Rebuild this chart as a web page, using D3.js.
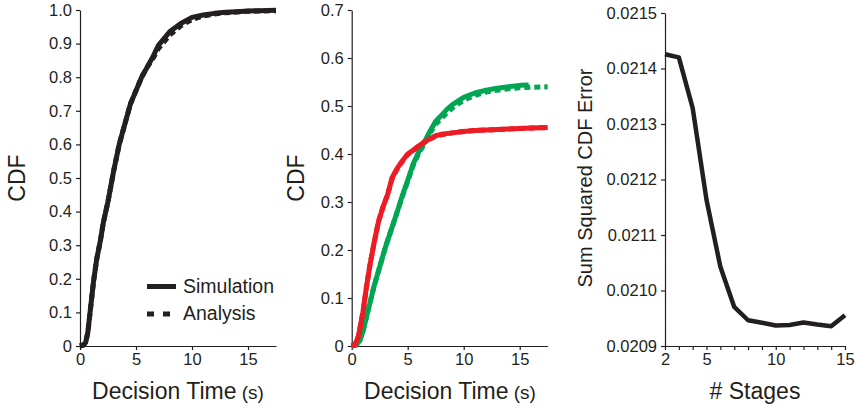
<!DOCTYPE html>
<html><head><meta charset="utf-8">
<script src="https://cdn.jsdelivr.net/npm/d3@7"></script>
<style>
html,body{margin:0;padding:0;background:#fff;}
svg text{font-family:"Liberation Sans",Arial,Helvetica,sans-serif;fill:#231F20;}
</style></head>
<body><svg id="c" width="856" height="406"></svg>
<script>
// ---- Panel A: overall decision-time CDF ----
const simTime = [0,0.3,0.5,0.7,0.9,1.2,1.5,1.8,2.1,2.5,3.0,3.5,4.0,4.5,5.0,5.5,6.0,6.5,7.0,7.5,8.0,9.0,10,11,12,13,14,15,16,17.5];
const simCDF  = [0,0.003,0.01,0.04,0.1,0.19,0.26,0.31,0.37,0.43,0.52,0.6,0.66,0.72,0.76,0.80,0.83,0.86,0.895,0.915,0.935,0.96,0.978,0.985,0.99,0.993,0.995,0.997,0.998,0.999];
const anaTime = [0,0.3,0.5,0.7,0.9,1.2,1.5,1.8,2.1,2.5,3.0,3.5,4.0,4.5,5.0,5.5,6.0,6.5,7.0,7.5,8.0,9.0,10,11,12,13,14,15,16,17.5];
const anaCDF  = [0,0.003,0.01,0.04,0.1,0.19,0.26,0.31,0.37,0.43,0.52,0.6,0.66,0.72,0.76,0.80,0.83,0.855,0.885,0.905,0.925,0.953,0.972,0.982,0.988,0.992,0.994,0.996,0.997,0.998];
// ---- Panel B: CDF by choice ----
const redTime = [0,0.3,0.6,0.8,1.0,1.3,1.6,2.0,2.4,2.8,3.2,3.6,4.0,4.5,5.0,5.5,6.0,6.5,7.0,7.5,8,9,10,11,12,13,14,15,16,17.5];
const redSim  = [0,0.003,0.02,0.045,0.07,0.12,0.165,0.215,0.26,0.29,0.315,0.35,0.368,0.385,0.4,0.408,0.417,0.425,0.432,0.438,0.441,0.444,0.447,0.449,0.45,0.451,0.452,0.453,0.454,0.455];
const redAna  = [0,0.003,0.02,0.045,0.07,0.12,0.165,0.215,0.26,0.29,0.315,0.348,0.366,0.384,0.399,0.408,0.417,0.425,0.431,0.437,0.44,0.444,0.447,0.449,0.45,0.451,0.452,0.453,0.454,0.455];
const greenTime = [0,0.4,0.7,1.0,1.5,2.0,2.5,3.0,3.5,4.0,4.5,5.0,5.5,6.0,6.5,7.0,7.5,8.0,8.5,9,10,11,12,13,14,15,15.8];
const greenSim  = [0,0.002,0.01,0.03,0.078,0.125,0.165,0.205,0.24,0.275,0.312,0.345,0.38,0.405,0.425,0.448,0.468,0.48,0.493,0.503,0.518,0.527,0.533,0.537,0.54,0.543,0.544];
const greenAnaTime = [0,0.4,0.7,1.0,1.5,2.0,2.5,3.0,3.5,4.0,4.5,5.0,5.5,6.0,6.5,7.0,7.5,8.0,8.5,9,10,11,12,13,14,15,16,17.5];
const greenAna  = [0,0.002,0.01,0.03,0.078,0.125,0.165,0.205,0.24,0.275,0.31,0.343,0.377,0.402,0.422,0.444,0.462,0.474,0.486,0.496,0.512,0.522,0.529,0.533,0.536,0.538,0.539,0.54];
// ---- Panel C: error vs number of stages ----
const stages = [2,3,4,5,6,7,8,9,10,11,12,13,14,15];
const sqErr  = [0.0214256,0.02142,0.0213285,0.021163,0.0210426,0.0209704,0.0209464,0.020942,0.0209368,0.020938,0.0209422,0.0209386,0.0209356,0.0209554];
// ---- tick labels ----
const cdfTicksA = [0,0.1,0.2,0.3,0.4,0.5,0.6,0.7,0.8,0.9,1.0];
const cdfTicksB = [0,0.1,0.2,0.3,0.4,0.5,0.6,0.7];
const timeTicks = [0,5,10,15];
const errTicks = [0.0209,0.021,0.0211,0.0212,0.0213,0.0214,0.0215];
const stageTicks = [2,5,10,15];
const stageMinor = [3,4,6,7,8,9,11,12,13,14];

const INK = "#231F20", RED = "#ED1C24", GREEN = "#00A651";
const svg = d3.select("#c");
const tickFont = 16.5;

function zip(xs, ys){ return xs.map((x,i)=>[x,ys[i]]); }
function cdfFmt(v){ return v===0 ? "0" : d3.format(".1f")(v); }

function drawAxes(x, y, yTicks, yFmt, xTicks, xFmt){
  const gx = svg.append("g").attr("transform",`translate(0,${y.range()[0]})`)
    .call(d3.axisBottom(x).tickValues(xTicks).tickFormat(xFmt).tickSizeInner(4).tickSizeOuter(0).tickPadding(3));
  const gy = svg.append("g").attr("transform",`translate(${x.range()[0]},0)`)
    .call(d3.axisLeft(y).tickValues(yTicks).tickFormat(yFmt).tickSizeInner(4).tickSizeOuter(0).tickPadding(4));
  [gx,gy].forEach(g=>{
    g.select(".domain").attr("stroke",INK).attr("stroke-width",1.2);
    g.selectAll(".tick line").attr("stroke",INK).attr("stroke-width",1.2);
    g.selectAll(".tick text").attr("font-size",tickFont).attr("fill",INK)
      .attr("font-family","Liberation Sans, Arial, sans-serif");
  });
  return {gx,gy};
}

// Panel A
const xA = d3.scaleLinear().domain([0,17.5]).range([80,276]);
const yA = d3.scaleLinear().domain([0,1]).range([346,10]);
drawAxes(xA,yA,cdfTicksA,cdfFmt,timeTicks,d3.format("d"));
const lineA = d3.line().x(d=>xA(d[0])).y(d=>yA(d[1]));
svg.append("path").attr("d",lineA(zip(anaTime,anaCDF))).attr("fill","none")
  .attr("stroke",INK).attr("stroke-width",5).attr("stroke-dasharray","6,4");
svg.append("path").attr("d",lineA(zip(simTime,simCDF))).attr("fill","none")
  .attr("stroke",INK).attr("stroke-width",5).attr("stroke-linejoin","round");

// Legend
svg.append("line").attr("x1",147).attr("x2",176).attr("y1",286.5).attr("y2",286.5)
  .attr("stroke",INK).attr("stroke-width",5);
svg.append("line").attr("x1",147).attr("x2",172).attr("y1",314).attr("y2",314)
  .attr("stroke",INK).attr("stroke-width",5).attr("stroke-dasharray","7,9");
svg.append("text").attr("x",183).attr("y",292.5).attr("font-size",19.5).text("Simulation");
svg.append("text").attr("x",183).attr("y",320).attr("font-size",19.5).text("Analysis");

// Panel B
const xB = d3.scaleLinear().domain([0,17.5]).range([351.7,547.7]);
const yB = d3.scaleLinear().domain([0,0.7]).range([346,10]);
drawAxes(xB,yB,cdfTicksB,cdfFmt,timeTicks,d3.format("d"));
const lineB = d3.line().x(d=>xB(d[0])).y(d=>yB(d[1]));
svg.append("path").attr("d",lineB(zip(greenAnaTime,greenAna))).attr("fill","none")
  .attr("stroke",GREEN).attr("stroke-width",5).attr("stroke-dasharray","6,4");
svg.append("path").attr("d",lineB(zip(greenTime,greenSim))).attr("fill","none")
  .attr("stroke",GREEN).attr("stroke-width",5).attr("stroke-linejoin","round");
svg.append("path").attr("d",lineB(zip(redTime,redAna))).attr("fill","none")
  .attr("stroke",RED).attr("stroke-width",5).attr("stroke-dasharray","6,4");
svg.append("path").attr("d",lineB(zip(redTime,redSim))).attr("fill","none")
  .attr("stroke",RED).attr("stroke-width",5).attr("stroke-linejoin","round");

// Panel C
const xC = d3.scaleLinear().domain([2,15]).range([665,845]);
const yC = d3.scaleLinear().domain([0.0209,0.0215]).range([346,13]);
drawAxes(xC,yC,errTicks,d3.format(".4f"),stageTicks,d3.format("d"));
svg.append("g").attr("transform",`translate(0,${yC.range()[0]})`)
  .call(d3.axisBottom(xC).tickValues(stageMinor).tickFormat("").tickSizeInner(4).tickSizeOuter(0))
  .call(g=>{g.select(".domain").remove(); g.selectAll(".tick line").attr("stroke",INK).attr("stroke-width",1.2);});
const lineC = d3.line().x((d,i)=>xC(stages[i])).y(d=>yC(d));
svg.append("path").attr("d",lineC(sqErr)).attr("fill","none")
  .attr("stroke",INK).attr("stroke-width",4.5).attr("stroke-linejoin","round");

// Axis titles
function xTitle(cx, parts){
  const t = svg.append("text").attr("x",cx).attr("y",399).attr("text-anchor","middle");
  parts.forEach(p=>t.append("tspan").attr("font-size",p[1]).text(p[0]));
}
xTitle(178,[["Decision Time",23],[" (s)",19]]);
xTitle(450,[["Decision Time",23],[" (s)",19]]);
xTitle(755,[["# Stages",23]]);
function yTitle(bx, cy, txt, fs){
  svg.append("text").attr("transform",`translate(${bx},${cy}) rotate(-90)`)
    .attr("text-anchor","middle").attr("font-size",fs).text(txt);
}
yTitle(25,178,"CDF",23);
yTitle(304,178,"CDF",23);
yTitle(592,178,"Sum Squared CDF Error",20);
</script></body></html>
